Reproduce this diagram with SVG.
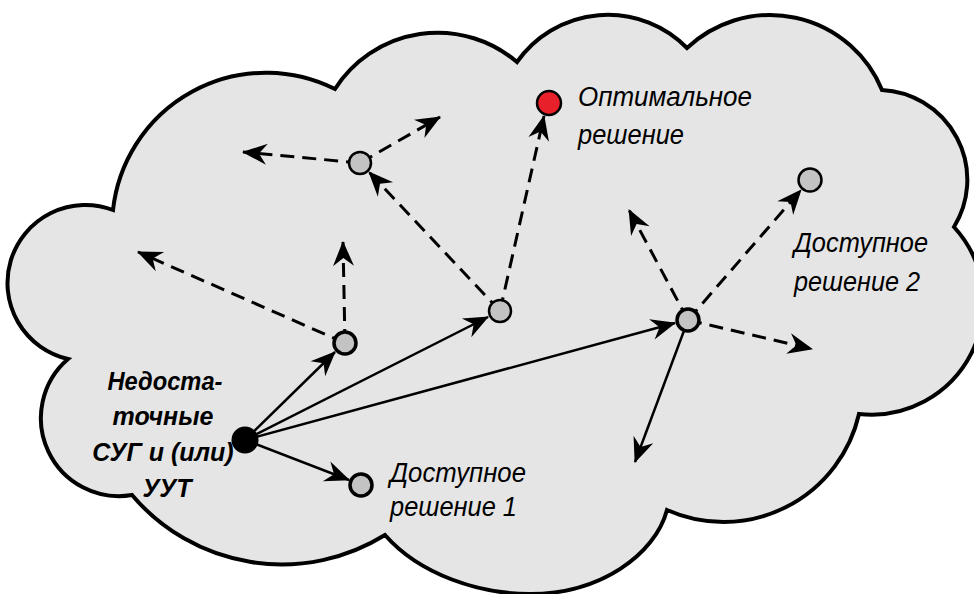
<svg xmlns="http://www.w3.org/2000/svg" width="974" height="594" viewBox="0 0 974 594">
<style>
.cloud{fill:#e5e5e5;stroke:#000;stroke-width:4;stroke-linejoin:miter}
.sol{fill:none;stroke:#000;stroke-width:2.5;marker-end:url(#ah)}
.dsh{fill:none;stroke:#000;stroke-width:3;stroke-dasharray:14 8;marker-end:url(#ah)}
.gn{fill:#c3c3c3;stroke:#000;stroke-width:2.5}
.gk{fill:#c3c3c3;stroke:#000;stroke-width:3.5}
.lbl{font-family:"Liberation Sans",Arial,sans-serif;font-style:italic;font-size:27px;fill:#000}
.blbl{font-family:"Liberation Sans",Arial,sans-serif;font-style:italic;font-weight:bold;font-size:25px;fill:#000;text-anchor:middle}
</style>
<defs>
<marker id="ah" markerUnits="userSpaceOnUse" markerWidth="28" markerHeight="24" viewBox="-26 -12 28 24" refX="0" refY="0" orient="auto">
<path d="M1,0 L-24,-10.5 L-16,0 L-24,10.5 Z" fill="#000" stroke="none"/>
</marker>
</defs>
<g id="cloud">
<path class="cloud" d="M113,210 A154,154 0 0 1 335,89 A122,122 0 0 1 517,62 A111,111 0 0 1 687,48 A121,121 0 0 1 882,90 A90,90 0 0 1 954,227 A112,112 0 0 1 859,414 A139,139 0 0 1 667,510 C655,555 600,594 530,594 C480,594 420,575 385,535 A196,196 0 0 1 132,495 A78,78 0 0 1 68,359 A78,78 0 1 1 113,210 Z"/>
</g>
<g id="connectors">
<path class="sol" d="M245,440 L335,352"/>
<path class="sol" d="M245,440 L488,317"/>
<path class="sol" d="M245,440 L675,323"/>
<path class="sol" d="M245,440 L349,480"/>
<path class="sol" d="M688,320 L635,462"/>
<path class="dsh" d="M345,343 L343,242"/>
<path class="dsh" d="M345,343 L138,252"/>
<path class="dsh" d="M500,311 L369,172"/>
<path class="dsh" d="M500,311 L544,116"/>
<path class="dsh" d="M360,163 L243,152"/>
<path class="dsh" d="M360,163 L440,117"/>
<path class="dsh" d="M688,320 L629,210"/>
<path class="dsh" d="M688,320 L801,190"/>
<path class="dsh" d="M688,320 L812,349"/>
</g>
<g id="start"><circle cx="245" cy="440" r="13.5" fill="#000"/></g>
<g id="n1"><circle class="gk" cx="345" cy="343" r="11"/></g>
<g id="n2"><circle class="gk" cx="361" cy="485" r="11"/></g>
<g id="n3"><circle class="gn" cx="500" cy="311" r="11"/></g>
<g id="n4"><circle class="gn" cx="360" cy="163" r="11"/></g>
<g id="n5"><circle class="gk" cx="688" cy="320" r="11"/></g>
<g id="n6"><circle class="gn" cx="810" cy="180" r="11.5"/></g>
<g id="opt"><circle cx="549" cy="103" r="12" fill="#e8202a" stroke="#000" stroke-width="2.5"/></g>
<g id="labels">
<text class="lbl" x="578" y="106" textLength="174" lengthAdjust="spacingAndGlyphs">Оптимальное</text>
<text class="lbl" x="578" y="144" textLength="106" lengthAdjust="spacingAndGlyphs">решение</text>
<text class="lbl" x="794" y="252" textLength="134" lengthAdjust="spacingAndGlyphs">Доступное</text>
<text class="lbl" x="794" y="291" textLength="126" lengthAdjust="spacingAndGlyphs">решение 2</text>
<text class="lbl" x="390" y="482" textLength="136" lengthAdjust="spacingAndGlyphs">Доступное</text>
<text class="lbl" x="390" y="516" textLength="127" lengthAdjust="spacingAndGlyphs">решение 1</text>
<text class="blbl" x="165" y="390" textLength="115" lengthAdjust="spacingAndGlyphs">Недоста-</text>
<text class="blbl" x="163" y="425">точные</text>
<text class="blbl" x="163" y="461">СУГ и (или)</text>
<text class="blbl" x="167" y="497">УУТ</text>
</g>
</svg>
